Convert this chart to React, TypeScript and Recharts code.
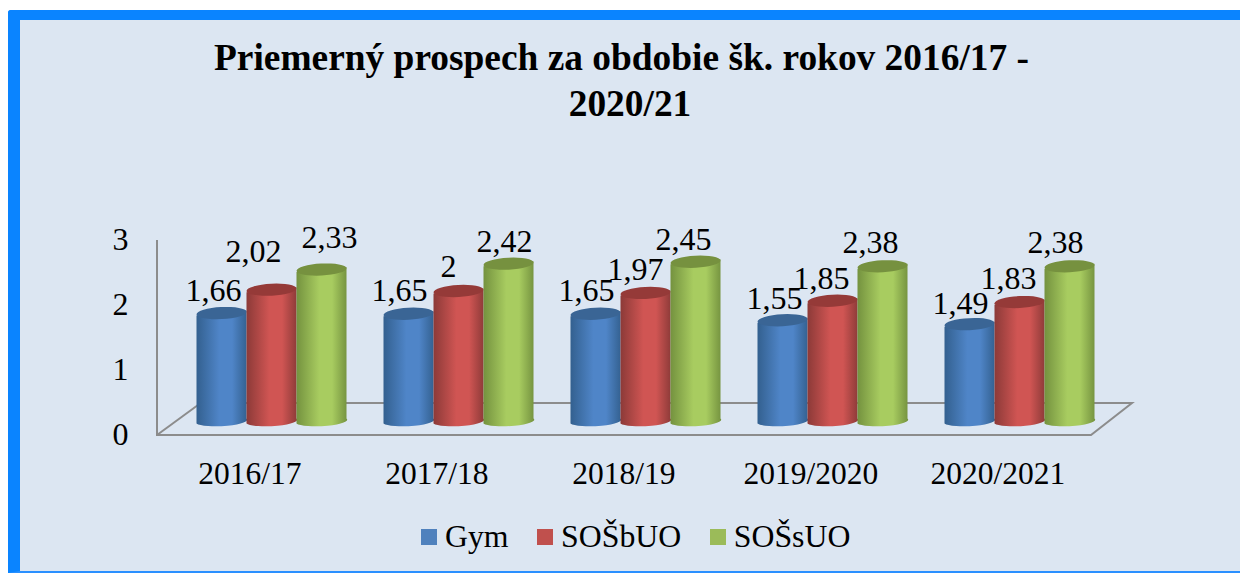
import { BarChart, Bar, XAxis, YAxis, Legend, LabelList } from 'recharts'

const years = ['2016/17', '2017/18', '2018/19', '2019/2020', '2020/2021']
const gym = [1.66, 1.65, 1.65, 1.55, 1.49]
const sosbuo = [2.02, 2, 1.97, 1.85, 1.83]
const sossuo = [2.33, 2.42, 2.45, 2.38, 2.38]
const yTicks = [0, 1, 2, 3]

const chartData = years.map((year, i) => ({ year, gym: gym[i], sosbuo: sosbuo[i], sossuo: sossuo[i] }))

const SERIF = '"Liberation Serif", serif'
const AXIS_GREY = '#8c8c8c'

// look of each cylinder: edge, middle, lid
const tones: Record<string, { edge: string; mid: string; lid: string }> = {
  gym: { edge: '#33608f', mid: '#4f85c8', lid: '#3a6595' },
  sosbuo: { edge: '#8c3a38', mid: '#d05553', lid: '#953a38' },
  sossuo: { edge: '#74923f', mid: '#a8cc60', lid: '#76913f' },
}

// data labels were placed by hand in the original, so each one has its own nudge
const labelNudge: Record<string, [number, number][]> = {
  gym: [[-8, -23], [-9, -24], [-9, -24], [-8, -22], [-9, -21]],
  sosbuo: [[-18, -39], [-10, -25], [-10, -24], [-11, -23], [-11, -24]],
  sossuo: [[8, -33], [-4, -23], [-12, -23], [-12, -24], [-14, -24]],
}

function Cylinder(props: any) {
  const { x, y, width, height, tone } = props
  const tilt = 2.5
  const rx = width / 2
  const body = `M${x},${y + tilt} L${x},${y + height + tilt} A${rx},5 -3 0 0 ${x + width},${y + height - tilt} L${x + width},${y - tilt} Z`
  return (
    <g>
      <path d={body} fill={`url(#grad-${tone})`} />
      <ellipse
        cx={x + rx}
        cy={y}
        rx={rx}
        ry={6}
        fill={tones[tone].lid}
        transform={`rotate(-3 ${x + rx} ${y})`}
      />
    </g>
  )
}

function valueLabel(key: string) {
  return (props: any) => {
    const { x, y, width, value, index } = props
    const [dx, dy] = labelNudge[key][index]
    return (
      <text
        x={x + width / 2 + dx}
        y={y + dy}
        textAnchor="middle"
        dominantBaseline="central"
        fontFamily={SERIF}
        fontSize={32}
        fill="#000"
      >
        {String(value).replace('.', ',')}
      </text>
    )
  }
}

function YTick({ x, y, payload }: any) {
  return (
    <text x={x - 50} y={y + 13} textAnchor="middle" dominantBaseline="central" fontFamily={SERIF} fontSize={32} fill="#000">
      {payload.value}
    </text>
  )
}

function XTick({ x, y, payload }: any) {
  return (
    <text x={x - 22} y={y + 12} textAnchor="middle" dominantBaseline="central" fontFamily={SERIF} fontSize={31.5} fill="#000">
      {payload.value}
    </text>
  )
}

function LegendRow({ payload }: any) {
  return (
    <div style={{ display: 'flex', fontFamily: SERIF, fontSize: 31.8, color: '#000', lineHeight: '36px' }}>
      {(payload || []).map((item: any) => (
        <div key={item.value} style={{ display: 'flex', alignItems: 'center', marginRight: 28.5 }}>
          <span style={{ width: 16, height: 16, background: item.color, marginRight: 8 }} />
          {item.value}
        </div>
      ))}
    </div>
  )
}

export default function App() {
  return (
    <div style={{ position: 'absolute', left: 0, top: 0, width: 1240, height: 573, overflow: 'hidden', background: '#fff' }}>
      <div
        style={{
          position: 'absolute',
          left: 8,
          top: 10,
          width: 1240,
          height: 563,
          boxSizing: 'border-box',
          background: '#dce6f2',
          borderTop: '10px solid #0a84ff',
          borderLeft: '12px solid #0a84ff',
          borderBottom: '2px solid #2a90ff',
          borderTopLeftRadius: 3,
        }}
      />
      <div style={{ position: 'absolute', left: 0, top: 0 }}>
        <BarChart
          width={1240}
          height={573}
          data={chartData}
          barGap={0}
          barCategoryGap={18}
          margin={{ top: 226, right: 126.5, bottom: 76, left: 118.5 }}
        >
          <defs>
            {Object.entries(tones).map(([key, t]) => (
              <linearGradient key={key} id={`grad-${key}`} x1="0" y1="0" x2="1" y2="0">
                <stop offset="0%" stopColor={t.edge} />
                <stop offset="45%" stopColor={t.mid} />
                <stop offset="70%" stopColor={t.mid} />
                <stop offset="100%" stopColor={t.edge} />
              </linearGradient>
            ))}
          </defs>

          <text x={621.5} y={70} textAnchor="middle" fontFamily={SERIF} fontSize={37.4} fontWeight="bold" fill="#000">
            Priemerný prospech za obdobie šk. rokov 2016/17 -
          </text>
          <text x={630} y={116} textAnchor="middle" fontFamily={SERIF} fontSize={37.4} fontWeight="bold" fill="#000">
            2020/21
          </text>

          {/* wall and floor of the 3D box */}
          <polyline
            points="157,240 157,435 1091,435 1132,403 205,403"
            fill="none"
            stroke={AXIS_GREY}
            strokeWidth={2}
          />
          <line x1={157} y1={435} x2={198} y2={405} stroke={AXIS_GREY} strokeWidth={2} />

          <XAxis
            dataKey="year"
            axisLine={false}
            tickLine={false}
            height={40}
            tickMargin={34}
            tick={XTick}
            interval={0}
          />
          <YAxis width={60} domain={[0, 3]} ticks={yTicks} axisLine={false} tickLine={false} tick={YTick} />

          <Bar dataKey="gym" name="Gym" fill="#4f81bd" isAnimationActive={false} shape={(p: any) => <Cylinder {...p} tone="gym" />}>
            <LabelList dataKey="gym" content={valueLabel('gym')} />
          </Bar>
          <Bar dataKey="sosbuo" name="SOŠbUO" fill="#c0504d" isAnimationActive={false} shape={(p: any) => <Cylinder {...p} tone="sosbuo" />}>
            <LabelList dataKey="sosbuo" content={valueLabel('sosbuo')} />
          </Bar>
          <Bar dataKey="sossuo" name="SOŠsUO" fill="#9bbb59" isAnimationActive={false} shape={(p: any) => <Cylinder {...p} tone="sossuo" />}>
            <LabelList dataKey="sossuo" content={valueLabel('sossuo')} />
          </Bar>

          <Legend
            height={40}
            content={LegendRow}
            wrapperStyle={{ position: 'absolute', left: 421, top: 519, width: 560, height: 36 }}
          />
        </BarChart>
      </div>
    </div>
  )
}
